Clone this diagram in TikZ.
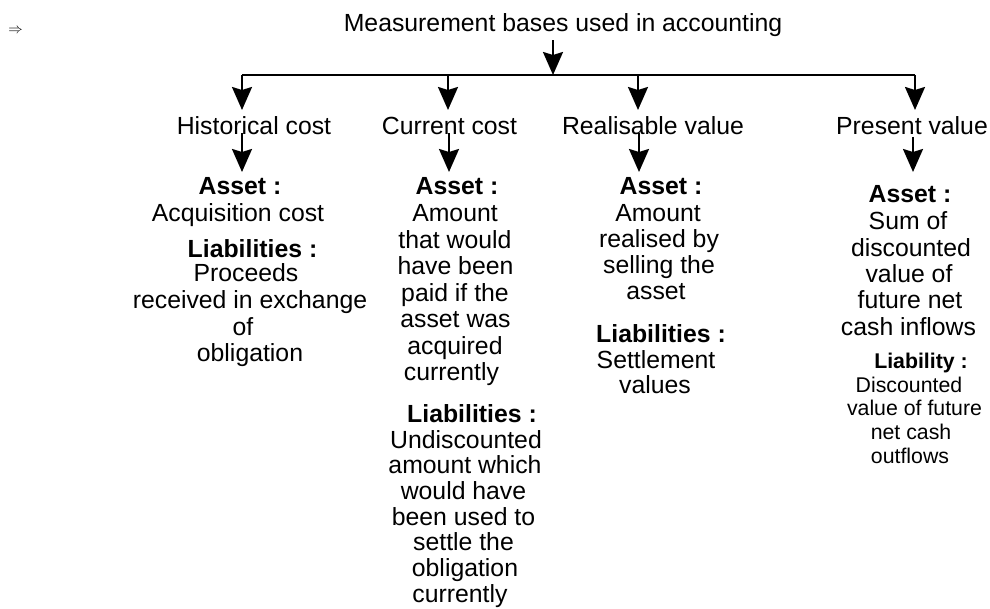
\documentclass[tikz,border=0pt]{standalone}
\usepackage{fontspec}
\setmainfont{Liberation Sans}
\usetikzlibrary{arrows.meta}
\begin{document}
\begin{tikzpicture}[x=1pt,y=-1pt,
  txt/.style={inner sep=0pt, anchor=base, font=\fontsize{24.8}{28}\selectfont},
  txtb/.style={inner sep=0pt, anchor=base, font=\fontsize{24.8}{28}\selectfont\bfseries},
  sml/.style={inner sep=0pt, anchor=base, font=\fontsize{21.3}{24}\selectfont},
  smlb/.style={inner sep=0pt, anchor=base, font=\fontsize{21.3}{24}\selectfont\bfseries},
  conn/.style={line width=2.2pt},
  arr/.style={conn, -{Stealth[length=23pt,width=20pt,inset=3pt]}}]
\useasboundingbox (0,0) rectangle (990,609);

% stray symbol
\node[inner sep=0pt, font=\fontsize{15}{15}\selectfont] (imp) at (15.5,31) {$\Rightarrow$};

% title and bar
\node[txt] (title) at (563,32) {Measurement bases used in accounting};
\coordinate (jt) at (553,75);
\coordinate (j1) at (242,75);
\coordinate (j2) at (448,75);
\coordinate (j3) at (638,75);
\coordinate (j4) at (915,75);
\coordinate (d1) at (242,110);
\coordinate (d2) at (448,110);
\coordinate (d3) at (638,110);
\coordinate (d4) at (915,110);
\draw[conn] (j1) -- (j4);
\draw[arr] ([yshift=-3pt]title.south -| jt) -- (jt);
\foreach \n in {1,...,4} \draw[arr] (j\n) -- (d\n);

% category labels
\node[txt] (hist) at (254,135) {Historical cost};
\node[txt] (curr) at (449.5,135) {Current cost};
\node[txt] (real) at (653,135) {Realisable value};
\node[txt] (pres) at (912,135) {Present value};

\coordinate (a1) at (242,172);
\coordinate (a2) at (449,172);
\coordinate (a3) at (639,172);
\coordinate (a4) at (913,172);
\draw[arr] ([yshift=2pt]hist.base -| a1) -- (a1);
\draw[arr] ([yshift=2pt]curr.base -| a2) -- (a2);
\draw[arr] ([yshift=2pt]real.base -| a3) -- (a3);
\draw[arr] ([yshift=-2pt]pres.base -| a4) -- (a4);

% Historical cost
\node[txtb] (h-as) at (240,195) {Asset :};
\node[txt] (h-a0) at (238,222) {Acquisition cost};
\node[txtb] (h-li) at (252.5,258) {Liabilities :};
\foreach [count=\i from 0] \t/\x in {Proceeds/246, received in exchange/250, of/243, obligation/250}
  \node[txt] (h-l\i) at (\x, 282+26.5*\i) {\t};

% Current cost
\node[txtb] (c-as) at (457,195) {Asset :};
\foreach [count=\i from 0] \t/\x in {Amount/455, that would/455, have been/455.5, paid if the/455, asset was/455.5, acquired/455, currently/451.5}
  \node[txt] (c-a\i) at (\x, 222+26.5*\i) {\t};
\node[txtb] (c-li) at (472,422) {Liabilities :};
\foreach [count=\i from 0] \t/\x in {Undiscounted/466, amount which/465, would have/463.5, been used to/463.5, settle the/463.5, obligation/465, currently/460}
  \node[txt] (c-l\i) at (\x, 448+25.7*\i) {\t};

% Realisable value
\node[txtb] (r-as) at (661,195) {Asset :};
\foreach [count=\i from 0] \t/\x in {Amount/658, realised by/659, selling the/659, asset/656}
  \node[txt] (r-a\i) at (\x, 222+26*\i) {\t};
\node[txtb] (r-li) at (661,342) {Liabilities :};
\foreach [count=\i from 0] \t/\x in {Settlement/656, values/655}
  \node[txt] (r-l\i) at (\x, 368+25*\i) {\t};

% Present value
\node[txtb] (p-as) at (910,203) {Asset :};
\foreach [count=\i from 0] \t/\x in {Sum of/908, discounted/911, value of/909, future net/910, cash inflows/908.5}
  \node[txt] (p-a\i) at (\x, 230+26.25*\i) {\t};
\node[smlb] (p-li) at (921,368) {Liability :};
\foreach [count=\i from 0] \t/\x in {Discounted/909, value of future/914.5, net cash/911, outflows/910}
  \node[sml] (p-l\i) at (\x, 392+23.7*\i) {\t};
\end{tikzpicture}
\end{document}
